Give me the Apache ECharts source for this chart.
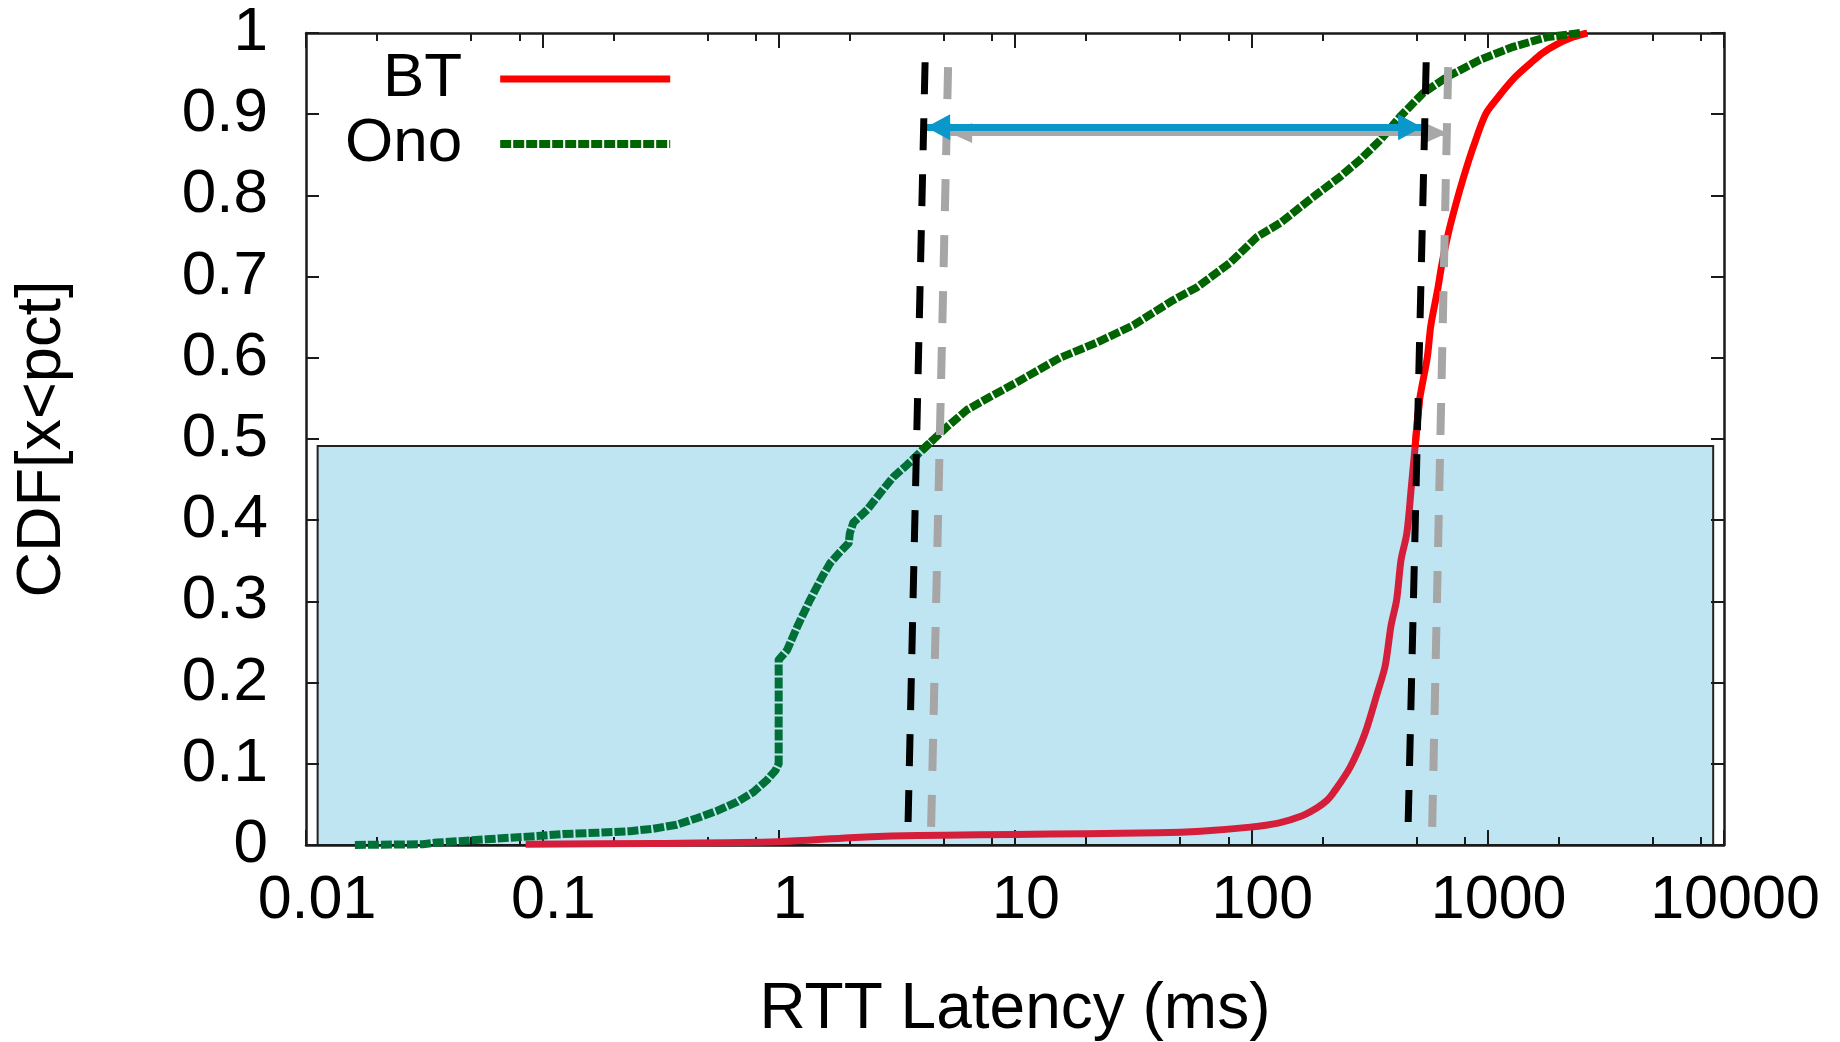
<!DOCTYPE html>
<html>
<head>
<meta charset="utf-8">
<script src="https://cdn.jsdelivr.net/npm/echarts@6/dist/echarts.min.js"></script>
<style>
html,body{margin:0;padding:0;background:#ffffff;}
#chart{width:1840px;height:1042px;}
</style>
</head>
<body>
<div id="chart"></div>
<script>
// ---------- data ----------
const xTickValues = [0.01, 0.1, 1, 10, 100, 1000, 10000];
const xTickLabels = ['0.01', '0.1', '1', '10', '100', '1000', '10000'];
const xMinorTicks = [0.02, 0.05, 0.08, 0.2, 0.5, 0.8, 2, 5, 8, 20, 50, 80, 200, 500, 800, 2000, 5000, 8000];
const yTickLabels = ['0', '0.1', '0.2', '0.3', '0.4', '0.5', '0.6', '0.7', '0.8', '0.9', '1'];
const seriesNames = ['BT', 'Ono'];

// BT RTT CDF  [latency ms, cumulative fraction]
const btData = [
  [0.085, 0.001], [0.3, 0.002], [1, 0.004], [2, 0.009], [3, 0.011], [5, 0.012], [10, 0.013],
  [20, 0.014], [40, 0.015], [61, 0.017], [99, 0.022], [130, 0.027], [161, 0.035], [190, 0.046],
  [209, 0.055], [222, 0.064], [262, 0.096], [303, 0.138], [341, 0.187], [368, 0.22], [390, 0.27],
  [412, 0.302], [430, 0.351], [455, 0.384], [475, 0.44], [493, 0.49], [515, 0.548], [555, 0.6],
  [575, 0.64], [615, 0.685], [640, 0.715], [680, 0.752], [730, 0.787], [790, 0.822], [870, 0.86],
  [980, 0.9], [1100, 0.92], [1300, 0.945], [1520, 0.963], [1700, 0.975], [1960, 0.986],
  [2300, 0.995], [2640, 1.0]
];

// Ono RTT CDF  [latency ms, cumulative fraction]
const onoData = [
  [0.0161, 0.0], [0.0313, 0.001], [0.0358, 0.003], [0.0461, 0.005], [0.058, 0.007], [0.073, 0.009],
  [0.095, 0.011], [0.122, 0.0135], [0.17, 0.015], [0.235, 0.017], [0.294, 0.020], [0.371, 0.025],
  [0.45, 0.033], [0.548, 0.042], [0.667, 0.053], [0.78, 0.065], [0.893, 0.080], [0.97, 0.092],
  [1.0, 0.10], [1.0, 0.228], [1.085, 0.240], [1.208, 0.271], [1.358, 0.302], [1.526, 0.330],
  [1.65, 0.347], [1.82, 0.361], [1.98, 0.372], [2.0, 0.384], [2.07, 0.397], [2.37, 0.413],
  [2.69, 0.4335], [3.05, 0.453], [3.49, 0.468], [4.04, 0.486], [4.5, 0.499], [5.16, 0.515],
  [6.27, 0.536], [7.85, 0.552], [10.2, 0.570], [15.5, 0.600], [22.3, 0.619], [31.6, 0.640],
  [46.7, 0.671], [59, 0.687], [81.3, 0.717], [105.8, 0.749], [132.4, 0.766], [182.6, 0.798],
  [237.6, 0.823], [288.7, 0.844], [350.8, 0.868], [426, 0.897], [533, 0.926], [674, 0.946],
  [929, 0.967], [1282, 0.983], [1786, 0.995], [2465, 1.0]
];

// annotation: median guide lines (top point, bottom point)
const blackLeftLine  = [[4.164, 0.964], [3.528, 0.027]];
const blackRightLine = [[549.3, 0.964], [460.9, 0.027]];
const grayLeftLine   = [[5.21, 0.958], [4.416, 0.021]];
const grayRightLine  = [[680.6, 0.958], [582.4, 0.021]];
// annotation: double arrows (left tip, right tip)
const blueArrow = [[4.206, 0.884], [528.2, 0.884]];
const grayArrow = [[5.315, 0.877], [673.9, 0.877]];
// annotation: shaded lower-half box (corner, corner)
const shadeBox = [[0.0112, 0], [9000, 0.4914]];

// ---------- styles ----------
const FONT = '"Liberation Sans", Arial, Helvetica, sans-serif';
const RED = '#ff0000', RED_IN = '#d41e3a';
const GREEN = '#006400', GREEN_IN = '#007038';
const AX = '#1a1a1a';

// split a curve at the shaded box top edge (sharing the segment that crosses it)
function lowerPart(pts, lim) {
  const i = pts.findIndex(p => p[1] > lim);
  return i < 0 ? pts.slice() : pts.slice(0, i + 1);
}
function upperPart(pts, lim) {
  const i = pts.findIndex(p => p[1] > lim);
  return i < 0 ? [] : pts.slice(Math.max(0, i - 1));
}
const LIM = shadeBox[1][1];

function curveSeries(name, pts, color, width, type, z, smooth) {
  return {
    name: name, type: 'line', data: pts, symbol: 'none', showSymbol: false, z: z,
    xAxisIndex: 0, yAxisIndex: 0, silent: true,
    smooth: smooth,
    lineStyle: { color: color, width: width, type: type, cap: 'butt', join: 'round' },
    itemStyle: { color: color }
  };
}
function guideSeries(pts, color, width, z) {
  return {
    type: 'line', data: pts, symbol: 'none', silent: true, z: z,
    lineStyle: { color: color, width: width, type: [32, 24], cap: 'butt' }
  };
}
function arrowSeries(pts, color, width, headSize, z) {
  return {
    type: 'line', data: [], symbol: 'none', silent: true, z: z,
    markLine: {
      silent: true, z: z,
      symbol: ['triangle', 'triangle'],
      symbolSize: headSize,
      symbolOffset: [[0, headSize[1] / 2], [0, headSize[1] / 2]],
      label: { show: false },
      emphasis: { disabled: true },
      lineStyle: { color: color, width: width, type: 'solid', cap: 'butt' },
      data: [[{ coord: pts[0] }, { coord: pts[1] }]]
    }
  };
}

const xBase = {
  type: 'log', logBase: 10, min: 0.01, max: 10000, gridIndex: 0,
  splitLine: { show: false }, z: 2
};

const option = {
  animation: false,
  backgroundColor: '#ffffff',
  textStyle: { fontFamily: FONT, color: '#000' },
  grid: { left: 306, right: 116, top: 33, bottom: 197, containLabel: false, outerBoundsMode: 'none' },
  legend: {
    data: [
      { name: seriesNames[0], lineStyle: { width: 7, color: RED, type: 'solid' } },
      { name: seriesNames[1], lineStyle: { width: 8, color: GREEN, type: [11, 2] } }
    ],
    orient: 'vertical', align: 'right',
    left: 345, top: 48, padding: 0,
    itemWidth: 170, itemHeight: 8, itemGap: 3,
    selectedMode: false,
    itemStyle: { opacity: 0 },
    textStyle: { fontFamily: FONT, fontSize: 62, color: '#000', lineHeight: 62, padding: [0, 33, 0, 0] }
  },
  xAxis: [
    Object.assign({}, xBase, {
      position: 'bottom',
      axisLine: { show: true, onZero: false, lineStyle: { color: AX, width: 2.5 } },
      axisTick: { show: true, inside: true, length: 15, lineStyle: { color: AX, width: 2 } },
      axisLabel: {
        show: true, fontSize: 61, color: '#000', fontFamily: FONT, margin: 26,
        padding: [0, 0, 0, 22], showMinLabel: true, showMaxLabel: true,
        formatter: function (v) {
          const i = xTickValues.findIndex(t => Math.abs(Math.log10(t) - Math.log10(v)) < 1e-6);
          return i >= 0 ? xTickLabels[i] : '';
        }
      },
      name: 'RTT Latency (ms)', nameLocation: 'middle', nameGap: 133, nameMoveOverlap: false,
      nameTextStyle: { fontSize: 64, color: '#000', fontFamily: FONT }
    }),
    Object.assign({}, xBase, {
      position: 'bottom',
      axisLine: { show: false, onZero: false },
      axisTick: { show: true, inside: true, length: 8, customValues: xMinorTicks, lineStyle: { color: AX, width: 2 } },
      axisLabel: { show: false }
    }),
    Object.assign({}, xBase, {
      position: 'top',
      axisLine: { show: true, onZero: false, lineStyle: { color: AX, width: 2.5 } },
      axisTick: { show: true, inside: true, length: 15, lineStyle: { color: AX, width: 2 } },
      axisLabel: { show: false }
    }),
    Object.assign({}, xBase, {
      position: 'top',
      axisLine: { show: false, onZero: false },
      axisTick: { show: true, inside: true, length: 8, customValues: xMinorTicks, lineStyle: { color: AX, width: 2 } },
      axisLabel: { show: false }
    })
  ],
  yAxis: [
    {
      type: 'value', min: 0, max: 1, interval: 0.1, position: 'left', z: 2,
      splitLine: { show: false },
      axisLine: { show: true, onZero: false, lineStyle: { color: AX, width: 2.5 } },
      axisTick: { show: true, inside: true, length: 13, lineStyle: { color: AX, width: 2 } },
      axisLabel: {
        show: true, fontSize: 62, color: '#000', fontFamily: FONT, margin: 38,
        showMinLabel: true, showMaxLabel: true,
        formatter: function (v) { return yTickLabels[Math.round(v * 10)]; }
      },
      name: 'CDF[x<pct]', nameLocation: 'middle', nameGap: 232, nameRotate: 90, nameMoveOverlap: false,
      nameTextStyle: { fontSize: 63, color: '#000', fontFamily: FONT }
    },
    {
      type: 'value', min: 0, max: 1, interval: 0.1, position: 'right', z: 2,
      splitLine: { show: false },
      axisLine: { show: true, onZero: false, lineStyle: { color: AX, width: 2.5 } },
      axisTick: { show: true, inside: true, length: 13, lineStyle: { color: AX, width: 2 } },
      axisLabel: { show: false }
    }
  ],
  series: [
    curveSeries(seriesNames[0], upperPart(btData, LIM), RED, 7, 'solid', 4, 0.3),
    curveSeries(seriesNames[1], upperPart(onoData, LIM), GREEN, 8, [11, 2], 4, false),
    curveSeries(seriesNames[0], lowerPart(btData, LIM), RED_IN, 7, 'solid', 3, 0.3),
    curveSeries(seriesNames[1], lowerPart(onoData, LIM), GREEN_IN, 8, [11, 2], 3, false),
    {
      type: 'line', data: [], symbol: 'none', silent: true, z: 1,
      markArea: {
        silent: true,
        itemStyle: { color: '#bfe5f3', borderColor: '#222', borderWidth: 2 },
        label: { show: false },
        data: [[{ coord: shadeBox[0] }, { coord: shadeBox[1] }]]
      }
    },
    guideSeries(grayLeftLine, '#a6a6a6', 8, 5),
    guideSeries(grayRightLine, '#a6a6a6', 8, 5),
    arrowSeries(grayArrow, '#a8a8a8', 5, [20, 22], 6),
    arrowSeries(blueArrow, '#0a98cb', 7, [26, 24], 7),
    guideSeries(blackLeftLine, '#000000', 7, 8),
    guideSeries(blackRightLine, '#000000', 7, 8)
  ]
};

const chart = echarts.init(document.getElementById('chart'), null, { renderer: 'canvas' });
chart.setOption(option);
</script>
</body>
</html>
